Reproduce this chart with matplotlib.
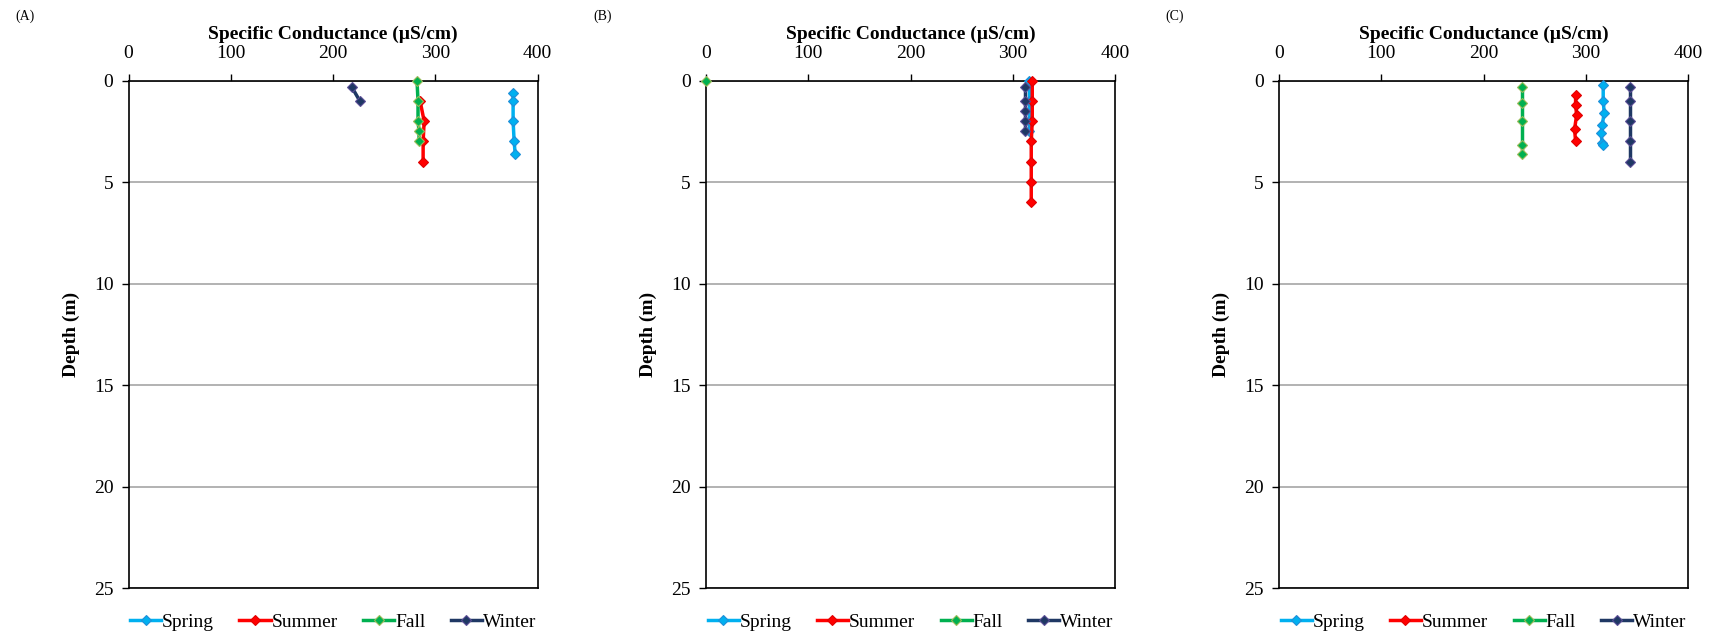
import numpy as np
import matplotlib.pyplot as plt

""" Data read from the three depth profiles """
seasons = ['Spring', 'Summer', 'Fall', 'Winter']
colors = ['#00B0F0', '#FF0000', '#00B050', '#1F3864']
edge_colors = ['#1F8FD8', '#E00000', '#9BBB59', '#5B4E96']
panel_labels = ['(A)', '(B)', '(C)']

# (A)
a_spring_depth = [0.6, 1.0, 2.0, 3.0, 3.6]
a_spring_sc = [376, 376, 376, 377, 378]
a_summer_depth = [1.0, 2.0, 3.0, 4.0]
a_summer_sc = [285, 289, 288, 288]
a_fall_depth = [0.0, 1.0, 2.0, 2.5, 3.0]
a_fall_sc = [282, 283, 283, 284, 284]
a_winter_depth = [0.3, 1.0]
a_winter_sc = [218, 226]

# (B)
b_spring_depth = [0.0, 1.0, 2.0, 2.5]
b_spring_sc = [316, 316, 316, 316]
b_summer_depth = [0.0, 1.0, 2.0, 3.0, 4.0, 5.0, 6.0]
b_summer_sc = [319, 319, 319, 318, 318, 318, 318]
b_fall_depth = [0.0]
b_fall_sc = [0]
b_winter_depth = [0.3, 1.0, 1.5, 2.0, 2.5]
b_winter_sc = [312, 312, 312, 312, 312]

# (C)
c_spring_depth = [0.2, 1.0, 1.6, 2.2, 2.6, 3.1, 3.2]
c_spring_sc = [317, 317, 318, 316, 315, 316, 317]
c_summer_depth = [0.7, 1.2, 1.7, 2.4, 3.0]
c_summer_sc = [290, 290, 291, 289, 290]
c_fall_depth = [0.3, 1.1, 2.0, 3.2, 3.6]
c_fall_sc = [238, 238, 238, 238, 238]
c_winter_depth = [0.3, 1.0, 2.0, 3.0, 4.0]
c_winter_sc = [343, 343, 343, 343, 343]

panels = [
    [(a_spring_sc, a_spring_depth), (a_summer_sc, a_summer_depth),
     (a_fall_sc, a_fall_depth), (a_winter_sc, a_winter_depth)],
    [(b_spring_sc, b_spring_depth), (b_summer_sc, b_summer_depth),
     (b_fall_sc, b_fall_depth), (b_winter_sc, b_winter_depth)],
    [(c_spring_sc, c_spring_depth), (c_summer_sc, c_summer_depth),
     (c_fall_sc, c_fall_depth), (c_winter_sc, c_winter_depth)],
]

plt.rcParams['font.family'] = ['Liberation Serif', 'DejaVu Serif']
FONTSIZE = 14

fig = plt.figure(figsize=(17.15, 6.37), dpi=100)
lefts = [0.075, 0.4117, 0.7458]
W, B, H = 0.2385, 0.0769, 0.7967

for k, series in enumerate(panels):
    ax = fig.add_axes([lefts[k], B, W, H])
    for (sc, depth), name, c, ec in zip(series, seasons, colors, edge_colors):
        ax.plot(sc, depth, color=c, lw=2.5, marker='D', ms=5,
                mfc=c, mec=ec, mew=0.8, label=name, clip_on=False, zorder=3)
    ax.set_xlim(0, 400)
    ax.set_ylim(25, 0)
    ax.set_xticks(np.arange(0, 401, 100))
    ax.set_yticks(np.arange(0, 26, 5))
    ax.xaxis.tick_top()
    ax.xaxis.set_label_position('top')
    ax.set_xlabel('Specific Conductance (µS/cm)', fontsize=FONTSIZE,
                  fontweight='bold', labelpad=5)
    ax.set_ylabel('Depth (m)', fontsize=FONTSIZE, fontweight='bold', labelpad=10)
    ax.tick_params(labelsize=FONTSIZE, direction='out', length=5,
                   width=1, color='black')
    ax.tick_params(axis='x', pad=8)
    ax.tick_params(axis='y', pad=6)
    ax.yaxis.grid(True, color='#A6A6A6', lw=1.2)
    ax.set_axisbelow(True)
    for s in ax.spines.values():
        s.set_linewidth(1.2)
        s.set_color('black')
    ax.legend(loc='upper center', bbox_to_anchor=(0.5, -0.035), ncol=4,
              frameon=False, fontsize=FONTSIZE, handlelength=1.6,
              handletextpad=0.05, columnspacing=1.3, borderaxespad=0)
    fig.text(lefts[k] - 0.066, 0.975, panel_labels[k], fontsize=10,
             va='center', ha='left')

fig.savefig('out.png', dpi=100)
